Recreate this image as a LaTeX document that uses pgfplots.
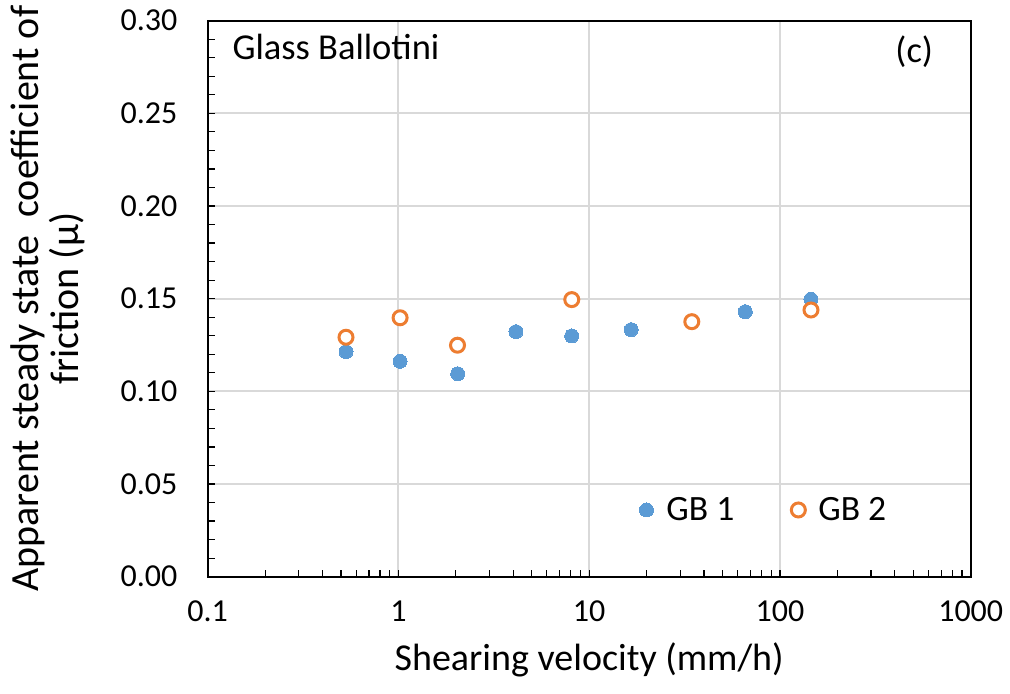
\documentclass[border=0pt]{standalone}
\usepackage{fontspec}
\setmainfont{Carlito}
\usepackage{pgfplots}
\pgfplotsset{compat=1.18}
\definecolor{gbblue}{HTML}{5B9BD5}
\definecolor{gborange}{HTML}{ED7D31}
\definecolor{gridgray}{HTML}{D9D9D9}
\begin{document}
\begin{tikzpicture}
\useasboundingbox (-103.85pt,-58.65pt) rectangle (401.15pt,288.35pt);
\begin{axis}[
  at={(0pt,0pt)}, anchor=south west,
  scale only axis, width=381.5pt, height=278pt,
  xmode=log, xmin=0.1, xmax=1000, ymin=0, ymax=0.30,
  xtick={0.1,1,10,100,1000}, xticklabels={0.1,1,10,100,1000},
  ytick={0,0.05,0.1,0.15,0.2,0.25,0.3},
  yticklabels={0.00,0.05,0.10,0.15,0.20,0.25,0.30},
  minor y tick num=4,
  grid=major,
  major grid style={gridgray, line width=1pt},
  axis line style={black, line width=0.9pt},
  tick align=inside, tick pos=left,
  major tick length=3.5pt, minor tick length=3.5pt,
  every tick/.style={black, line width=0.6pt},
  ticklabel style={font=\fontsize{16pt}{19pt}\selectfont},
  xticklabel style={inner sep=0pt, yshift=-12pt},
  yticklabel style={inner sep=0pt, xshift=-15pt},
  xlabel={Shearing velocity (mm/h)},
  xlabel style={at={(axis description cs:0.5,-0.15)}, anchor=center, inner sep=0pt,
    font=\fontsize{19pt}{22pt}\selectfont},
  ylabel={Apparent steady state\ \ coefficient of\\friction (μ)},
  ylabel style={at={(axis description cs:-0.21,0.5)}, anchor=center, inner sep=0pt, align=center,
    font=\fontsize{20pt}{20pt}\selectfont},
  legend columns=2,
  legend style={draw=none, fill=none, at={(axis description cs:0.5653,0.12)}, anchor=west,
    inner sep=0pt, font=\fontsize{17.8pt}{21pt}\selectfont,
    /tikz/every odd column/.append style={column sep=4.5pt},
    /tikz/every even column/.append style={column sep=26.5pt}},
  legend image code/.code={\draw[#1] plot coordinates {(0pt,0pt)};},
]
\addplot[gbblue, only marks, mark=*, mark size=3.5pt, mark options={draw=gbblue, fill=gbblue, line width=0pt}]
coordinates {(0.531,0.1214) (1.02,0.1162) (2.045,0.1095) (4.13,0.1322) (8.1,0.1299) (16.6,0.1333) (65.8,0.1430) (145.4,0.1497)};
\addlegendentry{GB 1}
\addplot[gborange, only marks, mark=*, mark size=3.5pt, mark options={draw=gborange, fill=white, line width=1.5pt}]
coordinates {(0.531,0.1292) (1.02,0.1397) (2.04,0.1249) (8.1,0.1495) (34.5,0.1376) (145.4,0.1439)};
\addlegendentry{GB 2}
\node[anchor=west, inner sep=0pt, font=\fontsize{18.25pt}{21pt}\selectfont] at (axis description cs:0.032,0.953) {Glass Ballotini};
\node[anchor=center, inner sep=0pt, font=\fontsize{18.25pt}{21pt}\selectfont] at (axis description cs:0.926,0.944) {(c)};
\end{axis}
\end{tikzpicture}
\end{document}
